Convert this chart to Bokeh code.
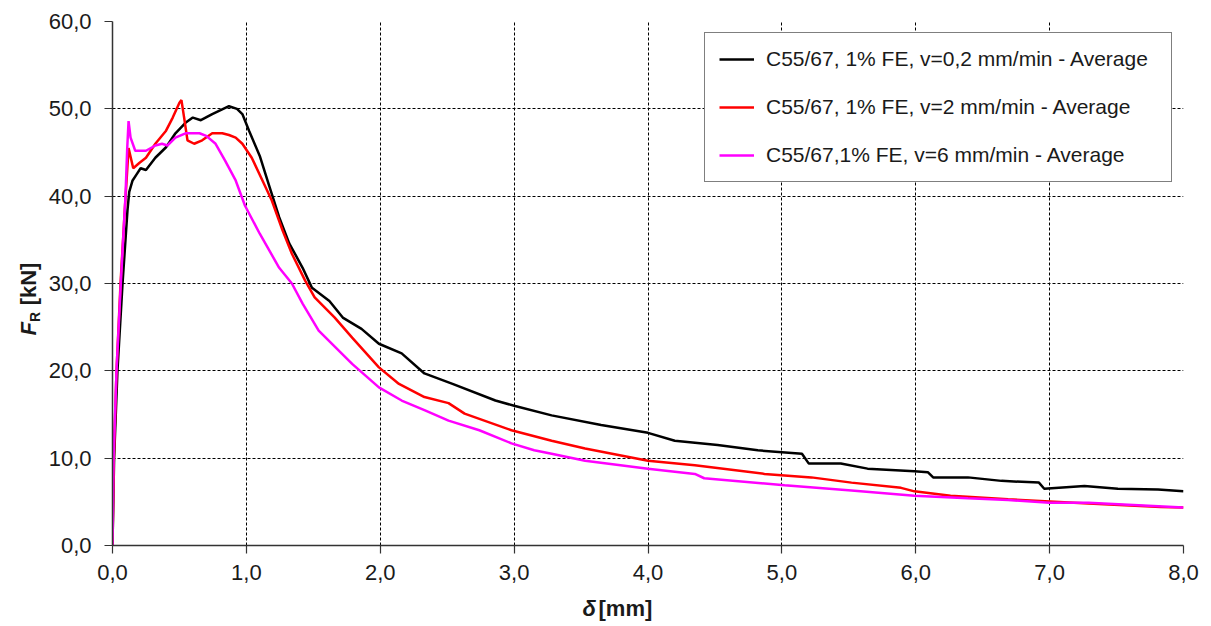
import math
from bokeh.plotting import figure
from bokeh.layouts import row, column
from bokeh.models import (Range1d, FixedTicker, CustomJSTickFormatter,
                          Legend, LegendItem)
from bokeh.core.properties import value
from bokeh.embed import file_html
from bokeh.resources import INLINE

# ---------------- data ----------------
x_ticks = [0, 1, 2, 3, 4, 5, 6, 7, 8]
y_ticks = [0, 10, 20, 30, 40, 50, 60]

series_labels = [
    "C55/67, 1% FE, v=0,2 mm/min - Average",
    "C55/67, 1% FE, v=2 mm/min - Average",
    "C55/67,1% FE, v=6 mm/min - Average",
]
x_title = ["δ", "[mm]"]
y_title = ["F", "R", "[kN]"]

black_x = [0, 0.012, 0.037, 0.075, 0.112, 0.125, 0.15, 0.18, 0.21, 0.25, 0.32, 0.40, 0.47,
           0.545, 0.60, 0.66, 0.745, 0.87, 0.93, 0.97, 1.02, 1.10, 1.17, 1.245, 1.32, 1.42,
           1.49, 1.62, 1.72, 1.86, 1.99, 2.16, 2.33, 2.54, 2.86, 3.0, 3.28, 3.65, 4.0, 4.20,
           4.52, 4.82, 5.15, 5.2, 5.44, 5.64, 5.99, 6.09, 6.13, 6.39, 6.64, 6.92, 6.96, 7.26,
           7.51, 7.81, 8.0]
black_y = [0, 10, 20, 30, 38.4, 40.5, 41.8, 42.5, 43.2, 43.0, 44.4, 45.6, 47.2,
           48.4, 49.0, 48.7, 49.4, 50.3, 50.0, 49.4, 47.5, 44.6, 41.2, 37.6, 34.6, 31.8,
           29.5, 28.0, 26.1, 24.8, 23.1, 22.0, 19.7, 18.5, 16.6, 16.0, 14.9, 13.8, 12.9, 12.0,
           11.5, 10.9, 10.5, 9.4, 9.4, 8.8, 8.5, 8.4, 7.8, 7.8, 7.4, 7.2, 6.5, 6.8,
           6.5, 6.4, 6.2]

red_x = [0, 0.01, 0.03, 0.06, 0.09, 0.12, 0.155, 0.20, 0.25, 0.32, 0.40, 0.45, 0.50, 0.515,
         0.535, 0.56, 0.61, 0.67, 0.745, 0.82, 0.87, 0.92, 0.97, 1.04, 1.12, 1.19, 1.27,
         1.34, 1.44, 1.51, 1.66, 1.79, 1.99, 2.14, 2.33, 2.51, 2.63, 2.98, 3.28, 3.53, 4.0,
         4.35, 4.87, 5.22, 5.52, 5.89, 5.99, 6.26, 6.69, 7.29, 7.83, 8.0]
red_y = [0, 10, 20, 30, 38, 45.5, 43.2, 43.8, 44.4, 46.0, 47.5, 49.0, 50.7, 51.0,
         49.0, 46.4, 46.0, 46.4, 47.2, 47.2, 47.0, 46.7, 46.0, 44.4, 41.8, 39.5, 36.1,
         33.4, 30.3, 28.4, 26.1, 23.8, 20.4, 18.5, 17.0, 16.3, 15.1, 13.2, 12.0, 11.1, 9.7,
         9.2, 8.2, 7.8, 7.2, 6.6, 6.2, 5.7, 5.3, 4.8, 4.4, 4.35]

magenta_x = [0, 0.008, 0.03, 0.062, 0.097, 0.11, 0.12, 0.135, 0.17, 0.25, 0.32, 0.37, 0.41,
             0.47, 0.545, 0.65, 0.70, 0.77, 0.84, 0.92, 0.99, 1.10, 1.245, 1.34, 1.42, 1.54,
             1.79, 1.99, 2.16, 2.33, 2.51, 2.74, 2.98, 3.15, 3.28, 3.53, 4.0, 4.35, 4.42,
             5.02, 5.52, 5.99, 6.39, 6.69, 7.0, 7.29, 8.0]
magenta_y = [0, 10, 20, 30, 40, 45.5, 48.6, 46.7, 45.2, 45.2, 45.8, 46.0, 45.8,
             46.7, 47.2, 47.2, 46.9, 46.0, 44.1, 41.8, 38.9, 35.7, 31.8, 30.0, 27.7, 24.6,
             20.8, 18.1, 16.6, 15.5, 14.3, 13.2, 11.7, 10.9, 10.5, 9.7, 8.8, 8.2, 7.7,
             6.9, 6.3, 5.7, 5.4, 5.2, 4.9, 4.9, 4.35]

# ---------------- styling ----------------
FONT = "Liberation Sans"
TEXT = "#1a1a1a"
W, H = 1211, 626
LEFT_W = 45          # strip that holds the y title
BOTTOM_H = 34        # strip that holds the x title
MAIN_H = H - BOTTOM_H

# ---------------- main chart ----------------
p = figure(width=W - LEFT_W, height=MAIN_H, output_backend="svg", toolbar_location=None,
           x_range=Range1d(0, 8), y_range=Range1d(0, 60),
           min_border_left=110 - LEFT_W, min_border_right=28, min_border_top=21,
           min_border_bottom=MAIN_H - 545)
p.background_fill_color = "white"
p.border_fill_color = "white"
p.outline_line_color = None

fmt = CustomJSTickFormatter(code="return tick.toFixed(1).replace('.', ',');")
p.xaxis.ticker = FixedTicker(ticks=x_ticks)
p.yaxis.ticker = FixedTicker(ticks=y_ticks)
for ax in (p.xaxis[0], p.yaxis[0]):
    ax.formatter = fmt
    ax.axis_line_color = "#333333"
    ax.axis_line_width = 1.5
    ax.major_tick_line_color = "#333333"
    ax.major_tick_line_width = 1.2
    ax.major_tick_out = 8
    ax.major_tick_in = 0
    ax.minor_tick_line_color = None
    ax.major_label_text_font = FONT
    ax.major_label_text_font_size = "22px"
    ax.major_label_text_color = TEXT
p.yaxis[0].major_label_standoff = 13
p.xaxis[0].major_label_standoff = 11

p.xgrid[0].ticker = FixedTicker(ticks=x_ticks)
p.ygrid[0].ticker = FixedTicker(ticks=y_ticks)
for g in (p.xgrid[0], p.ygrid[0]):
    g.grid_line_color = "black"
    g.grid_line_dash = "3 2"
    g.grid_line_width = 1

r_black = p.line(black_x, black_y, line_color="black", line_width=2.5)
r_red = p.line(red_x, red_y, line_color="#ff0000", line_width=2.5)
r_mag = p.line(magenta_x, magenta_y, line_color="#ff00ff", line_width=2.5)

legend = Legend(items=[LegendItem(label=series_labels[0], renderers=[r_black]),
                       LegendItem(label=series_labels[1], renderers=[r_red]),
                       LegendItem(label=series_labels[2], renderers=[r_mag])],
                location="top_right")
legend.margin = 11
legend.padding = 14
legend.spacing = 24
legend.glyph_width = 35
legend.glyph_height = 20
legend.label_height = 20
legend.label_width = 391
legend.label_standoff = 12
legend.label_text_font = FONT
legend.label_text_font_size = "21px"
legend.label_text_color = TEXT
legend.border_line_color = "black"
legend.border_line_width = 1.2
legend.background_fill_color = "white"
legend.background_fill_alpha = 1
p.add_layout(legend)


def strip(width, height, y_range=None):
    f = figure(width=width, height=height, output_backend="svg", toolbar_location=None,
               x_range=Range1d(0, width),
               y_range=y_range if y_range is not None else Range1d(0, height),
               x_axis_type=None, y_axis_type=None, min_border=0, title=None)
    f.grid.visible = False
    f.outline_line_color = None
    f.background_fill_color = "white"
    f.border_fill_color = "white"
    return f


# ---------------- y title strip: F_R [kN] (rotated, shares the chart's y scale) ----------------
ly = strip(LEFT_W, MAIN_H, y_range=p.y_range)
ly.text(x=[28], y=[24.05], text=[y_title[0]], angle=math.pi / 2,
        text_font=value(FONT), text_font_size="22px", text_font_style="bold italic",
        text_color=TEXT, text_baseline="middle", text_align="left")
ly.text(x=[34], y=[25.6], text=[y_title[1]], angle=math.pi / 2,
        text_font=value(FONT), text_font_size="14px", text_font_style="bold",
        text_color=TEXT, text_baseline="middle", text_align="left")
ly.text(x=[28], y=[27.5], text=[y_title[2]], angle=math.pi / 2,
        text_font=value(FONT), text_font_size="22px", text_font_style="bold",
        text_color=TEXT, text_baseline="middle", text_align="left")

# ---------------- x title strip: δ[mm] ----------------
lx = strip(W, BOTTOM_H)
lx.text(x=[582], y=[H - 608], text=[x_title[0]],
        text_font=value(FONT), text_font_size="22px", text_font_style="bold italic",
        text_color=TEXT, text_baseline="middle", text_align="left")
lx.text(x=[598], y=[H - 608], text=[x_title[1]],
        text_font=value(FONT), text_font_size="22px", text_font_style="bold",
        text_color=TEXT, text_baseline="middle", text_align="left")

layout = column(row(ly, p, spacing=0), lx, spacing=0)
open("out.html", "w").write(file_html(layout, INLINE))
